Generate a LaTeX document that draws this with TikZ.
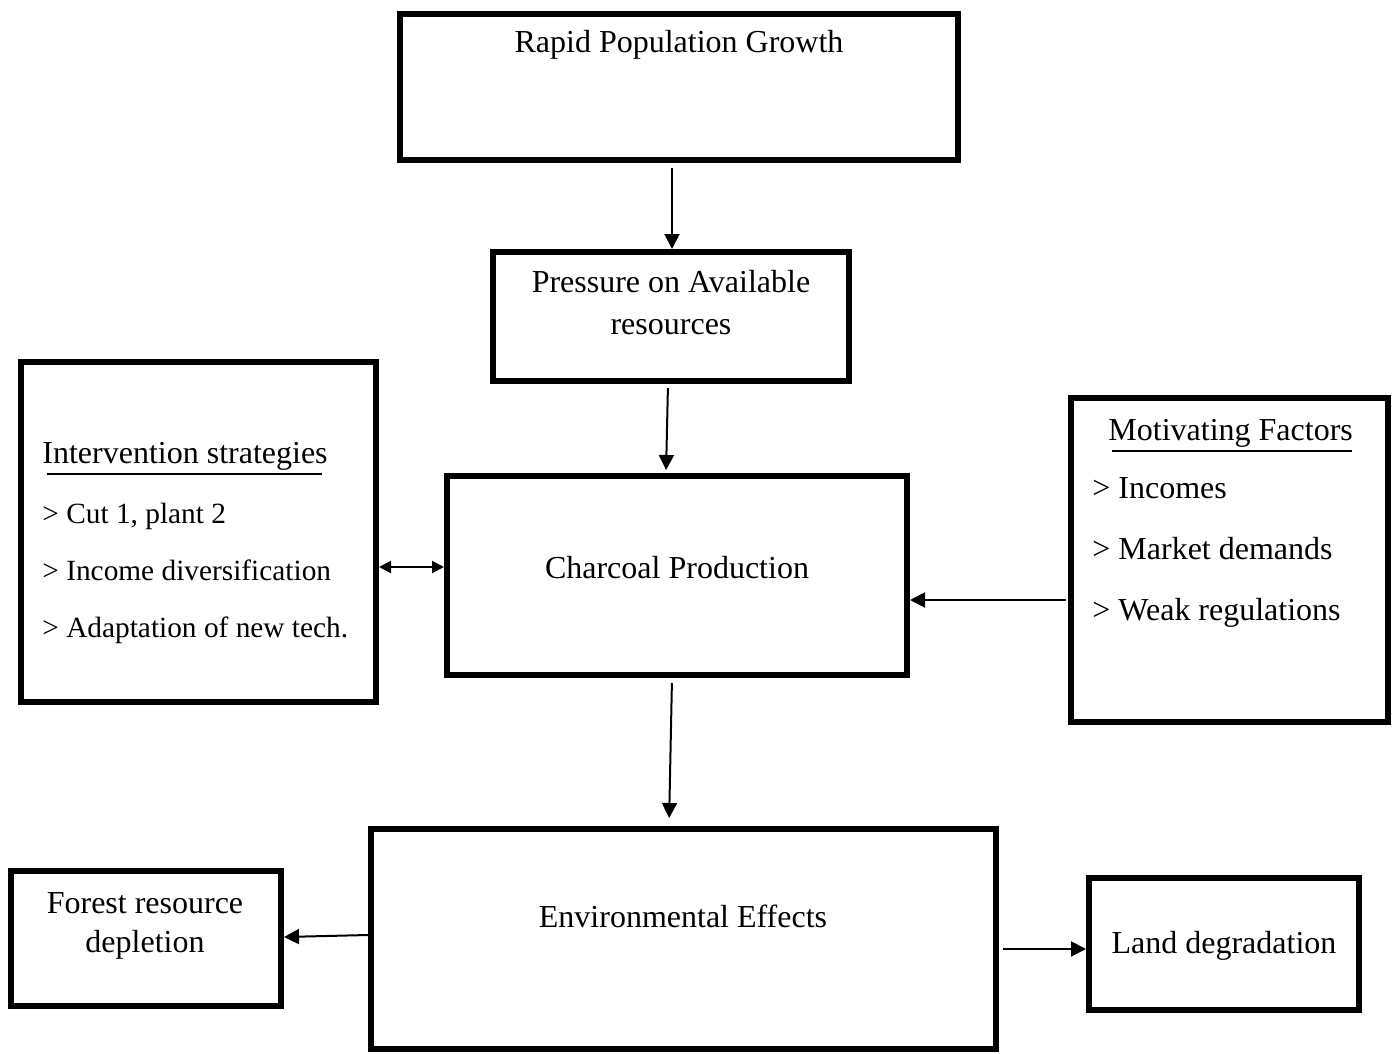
\documentclass[tikz,border=0pt]{standalone}
\usepackage{fontspec}
\setmainfont{Liberation Serif}
\usetikzlibrary{arrows.meta}
\tikzset{>=Triangle}
\tikzset{
  box/.style={draw, line width=3pt, inner sep=0pt},
  txt/.style={inner sep=0pt, font=\fontsize{16}{21}\selectfont},
  arr/.style={-{Triangle[length=7.5pt,width=7.5pt]}, line width=1pt},
  darr/.style={{Triangle[length=6pt,width=6pt]}-{Triangle[length=6pt,width=6pt]}, line width=1pt}
}
\begin{document}
\begin{tikzpicture}[x=0.5pt, y=-0.5pt]
		\useasboundingbox (0,0) rectangle (1393,1054);
		% boxes
		\node[box, minimum width=279pt, minimum height=73pt] (rpg) at (679,87) {};
		\node[box, minimum width=178pt, minimum height=64.5pt] (pres) at (671,316.5) {};
		\node[box, minimum width=177.5pt, minimum height=170pt] (inter) at (198.5,532) {};
		\node[box, minimum width=230pt, minimum height=99.5pt] (char) at (677,575.5) {};
		\node[box, minimum width=158.5pt, minimum height=162pt] (motiv) at (1229.5,560) {};
		\node[box, minimum width=312.5pt, minimum height=110pt] (env) at (683.5,939) {};
		\node[box, minimum width=135pt, minimum height=67.5pt] (forest) at (146,938.5) {};
		\node[box, minimum width=135pt, minimum height=66pt] (land) at (1224,944) {};
		% texts
		\node[txt, anchor=base] (rpg-t) at (679,53) {Rapid Population Growth};
		\node[txt, anchor=base, align=center] (pres-t) at (671,334) {Pressure on Available\\resources};
		\node[txt, anchor=base] (char-t) at (677,578) {Charcoal Production};
		\node[txt, anchor=base] (env-t) at (683,927) {Environmental Effects};
		\node[txt, anchor=base, align=center, font=\fontsize{16}{19.5}\selectfont] (forest-t) at (145,952) {Forest resource\\depletion};
		\node[txt, anchor=base] (land-t) at (1224,953) {Land degradation};
		\node[txt, anchor=base west] (inter-h) at (42,463) {Intervention strategies};
		\draw[line width=0.75pt] (47,474) -- (322,474);
		\foreach \t [count=\i] in {{Cut 1, plant 2},{Income diversification},{Adaptation of new tech.}}
		\node[txt, anchor=base west, font=\fontsize{14.67}{18}\selectfont] (inter-\i) at (42,{523+57*(\i-1)}) {> \t};
		\node[txt, anchor=base west] (motiv-h) at (1108,440) {Motivating Factors};
		\draw[line width=0.75pt] (1112,451) -- (1352,451);
		\foreach \t [count=\i] in {Incomes,Market demands,Weak regulations}
		\node[txt, anchor=base west] (motiv-\i) at (1092,{498+61*(\i-1)}) {> \t};
		% arrows
		\draw[arr, shorten <=2.5pt] (rpg.south -| 672,0) -- (pres.north -| 672,0);
		\draw[arr, shorten <=2pt, shorten >=1.5pt] (pres.south -| 668,0) -- (char.north -| 666,0);
		\draw[darr] (inter.east |- 0,567) -- (char.west |- 0,567);
		\draw[arr, shorten <=1pt] (motiv.west |- 0,600) -- (char.east |- 0,600);
		\draw[arr, shorten <=2.5pt, shorten >=4pt] (char.south -| 672,0) -- (env.north -| 669,0);
		\draw[arr] (env.west |- 0,935) -- (forest.east |- 0,937);
		\draw[arr, shorten <=2pt] (env.east |- 0,949) -- (land.west |- 0,949);
	\end{tikzpicture}
\end{document}
